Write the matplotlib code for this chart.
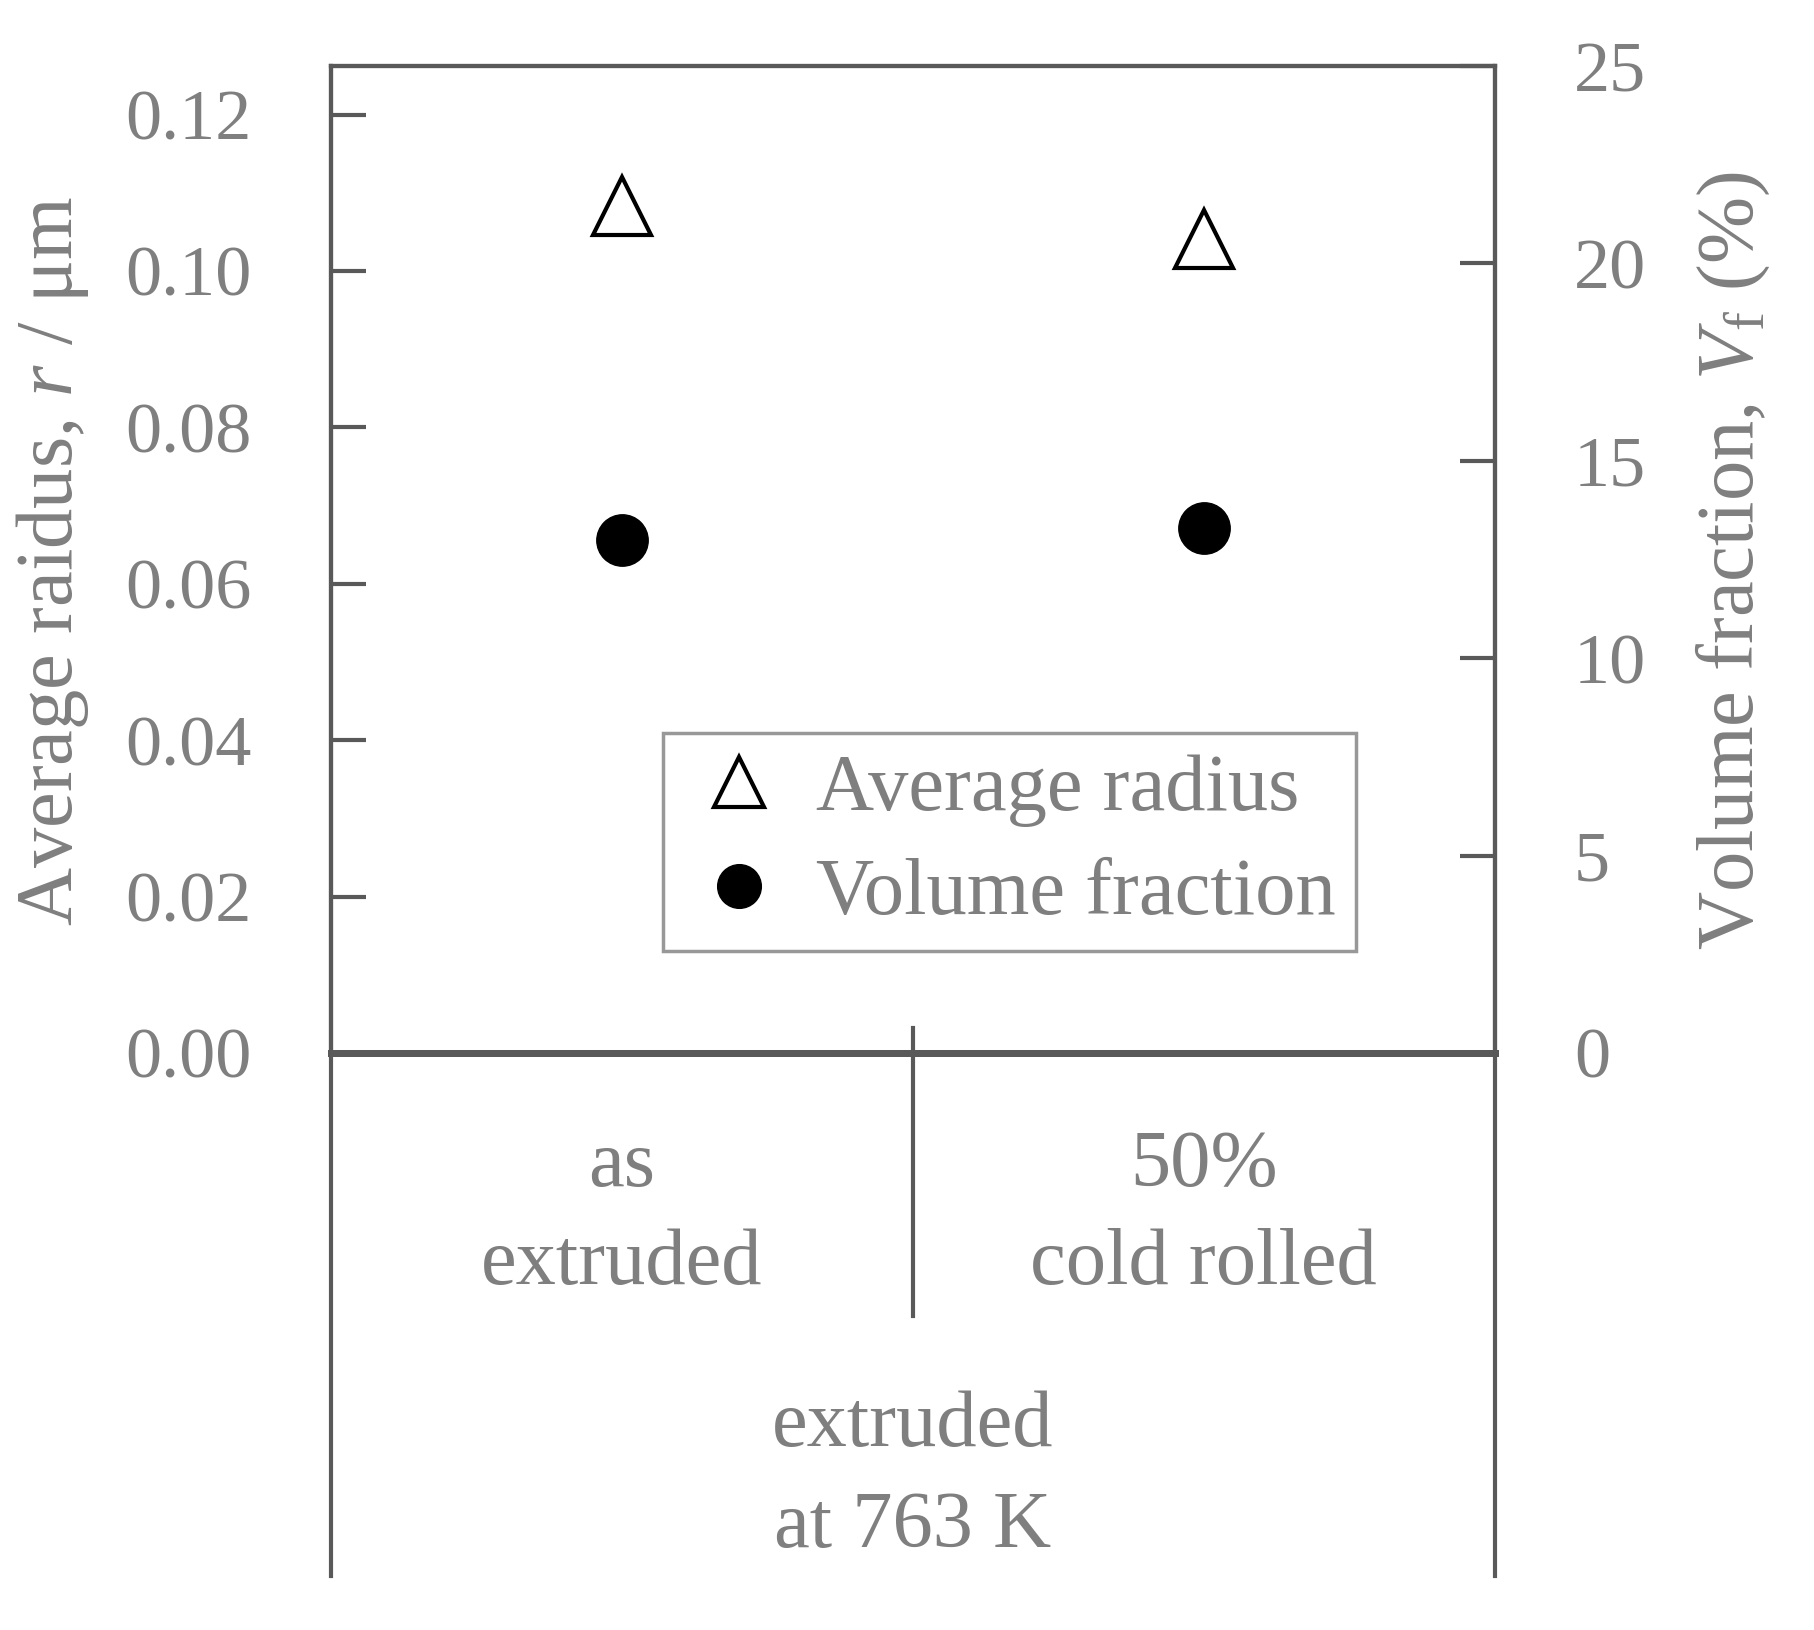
import matplotlib
matplotlib.use("Agg")
import matplotlib.pyplot as plt
from matplotlib.lines import Line2D

plt.rcParams['font.family'] = ['Liberation Serif', 'DejaVu Serif']
plt.rcParams['mathtext.fontset'] = 'custom'
plt.rcParams['mathtext.rm'] = 'Liberation Serif'
plt.rcParams['mathtext.it'] = 'Liberation Serif:italic'

# ---- data ----
conditions = ["as\nextruded", "50%\ncold rolled"]
group_label = "extruded\nat 763 K"
avg_radius = [0.1083, 0.1041]        # µm (left axis)
vol_fraction = [13.0, 13.3]          # % (right axis)
left_ticks = [0.00, 0.02, 0.04, 0.06, 0.08, 0.10, 0.12]
left_ticklabels = ["0.00", "0.02", "0.04", "0.06", "0.08", "0.10", "0.12"]
right_ticks = [0, 5, 10, 15, 20, 25]

TXT = '#7f7f7f'
SP = '#595959'
FS = 52
FW = 58

fig = plt.figure(figsize=(18.15, 16.3), dpi=100)
ax = fig.add_axes([0.1824, 0.354, 0.6411, 0.6055])
ax2 = ax.twinx()

xpos = [0.5, 1.5]
h1, = ax.plot(xpos, avg_radius, linestyle='none', marker='^', markersize=42,
              markerfacecolor='white', markeredgecolor='black', markeredgewidth=3,
              label='Average radius', clip_on=False)
h2, = ax2.plot(xpos, vol_fraction, linestyle='none', marker='o', markersize=37,
               markerfacecolor='black', markeredgecolor='black',
               label='Volume fraction', clip_on=False)

ax.set_xlim(0, 2)
ax.set_ylim(0, 0.1262)
ax2.set_ylim(0, 25)
ax.set_xticks([])
ax.set_yticks(left_ticks)
ax.set_yticklabels(left_ticklabels)
ax2.set_yticks(right_ticks)

for a in (ax, ax2):
    for s in a.spines.values():
        s.set_color(SP)
        s.set_linewidth(3)
    a.spines['bottom'].set_linewidth(5)
    a.tick_params(axis='y', direction='in', length=25, width=3, color=SP,
                  labelsize=FS, labelcolor=TXT, pad=57)
    a.set_zorder(2)
ax.patch.set_visible(False)

# extended spines and divider below the axes
trans = ax.transAxes
for x in (0, 1):
    ax.add_line(Line2D([x, x], [0, -0.530], transform=trans, color=SP,
                       linewidth=3, clip_on=False))
ax.add_line(Line2D([0.5, 0.5], [0.0256, -0.266], transform=trans, color=SP,
                   linewidth=3, clip_on=False))

for xp, lab in zip(xpos, conditions):
    ax.text(xp / 2, -0.165, lab, transform=trans, ha='center', va='center',
            fontsize=FW, color=TXT, linespacing=1.45)
ax.text(0.5, -0.430, group_label, transform=trans, ha='center', va='center',
        fontsize=FW, color=TXT, linespacing=1.5)

fig.text(0.0287, 0.656, r"Average raidus, $r$ / μm", rotation=90, ha='center',
         va='center', fontsize=FW, color=TXT)
fig.text(0.955, 0.656, r"Volume fraction, $V_\mathrm{f}$ (%)", rotation=90,
         ha='center', va='center', fontsize=FW, color=TXT)

leg = ax2.legend(handles=[h1, h2], loc='upper left', bbox_to_anchor=(0.285, 0.324),
                 fontsize=FW, frameon=True, fancybox=False, borderaxespad=0,
                 handletextpad=0.25, labelspacing=0.38, borderpad=0.25,
                 markerscale=0.85, handlelength=1.4)
leg.get_frame().set_edgecolor(TXT)
leg.get_frame().set_linewidth(2.5)
for t in leg.get_texts():
    t.set_color(TXT)

fig.savefig("out.png", dpi=100, facecolor='white')
